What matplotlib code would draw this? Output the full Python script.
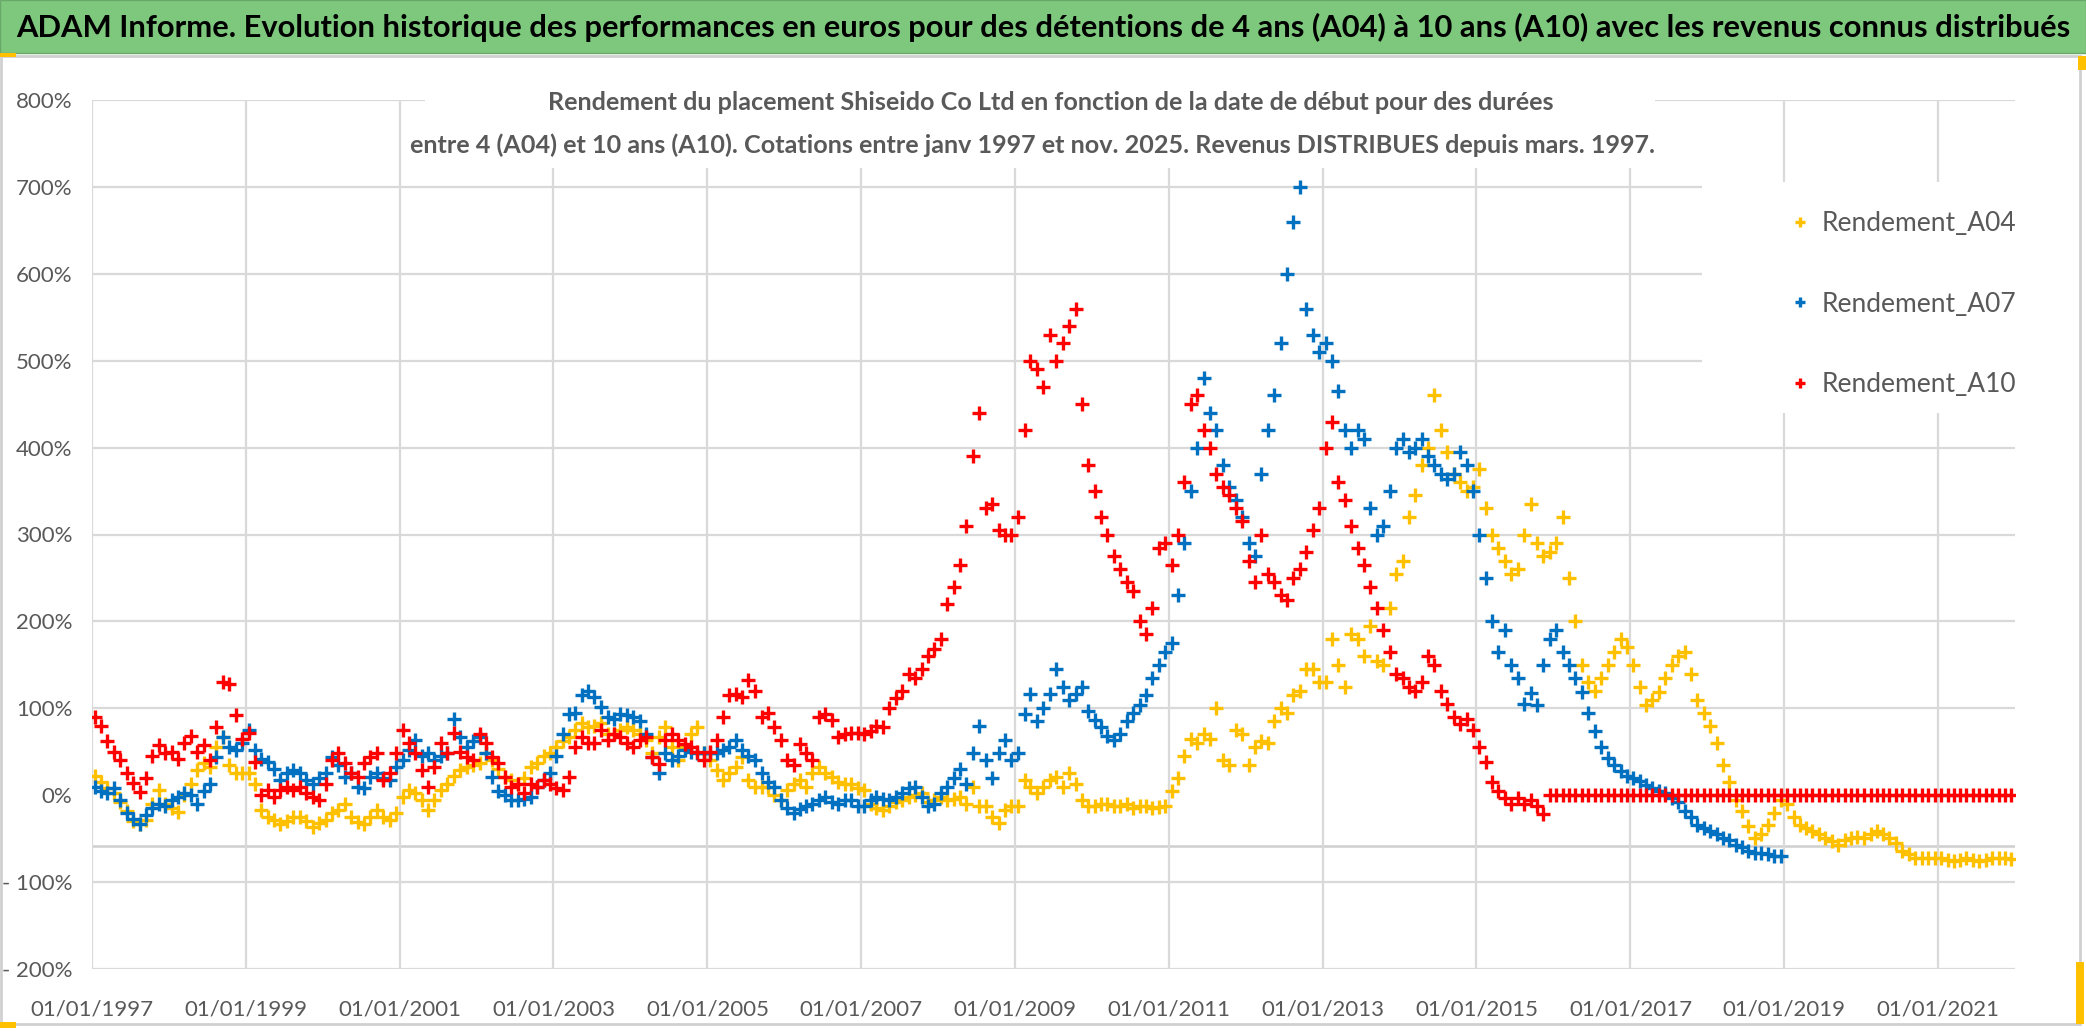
import datetime as dt
import matplotlib
matplotlib.use("Agg")
import matplotlib.pyplot as plt
import matplotlib.dates as mdates
from matplotlib.patches import Rectangle
from matplotlib import font_manager
import pandas as pd

# monthly readings (%), one row per year, from Jan 1997
rendement_a04 = [
    22, 15, 8, 2, -8, -18, -30, -33, -29, -10, 6, -10,          # 1997
    -15, -19, 0, 13, 29, 37, 33, 56, 67, 35, 25, 25,            # 1998
    25, 13, -17, -25, -29, -33, -30, -25, -25, -30, -37, -32,   # 1999
    -29, -20, -17, -10, -25, -31, -33, -25, -17, -25, -29, -21, # 2000
    -2, 6, 2, -5, -17, -6, 6, 13, 22, 29, 33, 35,               # 2001
    37, 48, 40, 30, 21, 17, 13, 20, 33, 37, 45, 48,             # 2002
    56, 62, 67, 75, 83, 79, 80, 83, 71, 71, 75, 79,             # 2003
    75, 70, 63, 48, 67, 79, 55, 40, 56, 70, 79, 48,             # 2004
    40, 29, 17, 25, 33, 44, 17, 10, 10, 10, 0, -6,              # 2005
    6, 13, 17, 10, 25, 33, 25, 21, 15, 13, 13, 8,               # 2006
    6, -10, -15, -17, -12, -8, -6, -2, 0, 2, -8, -5,            # 2007
    -2, -6, -4, -2, -10, 10, -13, -13, -25, -32, -17, -13,      # 2008
    -13, 17, 10, 2, 10, 17, 21, 10, 25, 13, -6, -13,            # 2009
    -12, -10, -10, -12, -13, -10, -15, -13, -12, -15, -14, -12, # 2010
    5, 20, 45, 65, 60, 70, 65, 100, 40, 35, 75, 70,             # 2011
    35, 55, 62, 60, 85, 100, 95, 115, 120, 145, 145, 130,       # 2012
    130, 180, 150, 125, 185, 180, 160, 195, 155, 150, 215, 255, # 2013
    270, 320, 345, 380, 400, 460, 420, 395, 370, 360, 350, 355, # 2014
    375, 330, 300, 285, 270, 255, 260, 300, 335, 290, 275, 280, # 2015
    290, 320, 250, 200, 150, 130, 120, 135, 150, 165, 180, 170, # 2016
    150, 125, 104, 110, 119, 135, 150, 160, 165, 140, 110, 95,  # 2017
    80, 60, 35, 15, -5, -18, -35, -49, -45, -34, -20, -5,       # 2018
    -10, -25, -34, -38, -41, -45, -49, -53, -57, -52, -49, -48, # 2019
    -49, -45, -41, -45, -49, -55, -64, -68, -72, -72, -72, -72, # 2020
    -72, -74, -76, -75, -72, -74, -76, -75, -72, -72, -72, -73, # 2021
]

rendement_a07 = [
    10, 5, 2, 8, -6, -21, -27, -33, -23, -15, -10, -12,         # 1997
    -5, -2, 2, 0, -10, 5, 13, 44, 67, 56, 52, 60,               # 1998
    75, 52, 42, 38, 30, 17, 25, 29, 25, 18, 13, 20,             # 1999
    25, 44, 35, 21, 25, 10, 8, 21, 25, 20, 17, 33,              # 2000
    40, 52, 63, 45, 48, 40, 45, 48, 88, 67, 56, 62,             # 2001
    67, 48, 21, 5, 0, -6, -6, -4, -2, 10, 18, 25,               # 2002
    45, 70, 94, 95, 115, 120, 113, 102, 90, 88, 94, 92,         # 2003
    90, 85, 70, 44, 25, 48, 40, 45, 52, 50, 48, 48,             # 2004
    48, 48, 52, 56, 63, 52, 45, 40, 25, 15, 10, -5,             # 2005
    -15, -21, -16, -13, -10, -5, -2, -8, -10, -6, -6, -12,      # 2006
    -12, -6, -2, -4, -6, -2, 2, 8, 10, -2, -13, -10,            # 2007
    2, 10, 20, 30, 13, 48, 80, 40, 20, 48, 63, 40,              # 2008
    48, 94, 116, 85, 100, 116, 145, 124, 109, 116, 124, 97,     # 2009
    86, 78, 68, 63, 70, 85, 95, 104, 115, 135, 150, 165,        # 2010
    175, 230, 290, 350, 400, 480, 440, 420, 380, 355, 340, 320, # 2011
    290, 275, 370, 420, 460, 520, 600, 660, 700, 560, 530, 510, # 2012
    520, 500, 465, 420, 400, 420, 410, 330, 300, 310, 350, 400, # 2013
    410, 395, 400, 410, 390, 380, 370, 364, 370, 395, 380, 350, # 2014
    300, 250, 200, 165, 190, 150, 135, 105, 118, 104, 150, 180, # 2015
    190, 165, 150, 135, 119, 95, 74, 55, 43, 35, 28, 22,        # 2016
    20, 16, 12, 8, 5, 2, -3, -8, -18, -25, -34, -38,            # 2017
    -41, -45, -49, -52, -57, -60, -64, -66, -67, -68, -70, -70, # 2018
]

rendement_a10 = [
    90, 80, 62, 50, 40, 25, 14, 4, 20, 45, 58, 48,              # 1997
    50, 42, 60, 68, 50, 58, 40, 78, 130, 128, 92, 65,           # 1998
    72, 38, 0, 6, -2, 6, 10, 6, 10, 2, -2, -6,                  # 1999
    13, 40, 48, 37, 25, 21, 37, 44, 48, 17, 25, 48,             # 2000
    75, 60, 48, 29, 10, 33, 60, 48, 72, 50, 44, 40,             # 2001
    70, 60, 44, 37, 21, 10, 13, 2, 13, 10, 17, 13,              # 2002
    8, 6, 21, 56, 67, 60, 60, 75, 63, 71, 67, 60,               # 2003
    55, 63, 67, 44, 36, 63, 71, 63, 59, 56, 50, 40,             # 2004
    50, 63, 90, 115, 117, 113, 132, 120, 90, 95, 79, 63,        # 2005
    40, 35, 59, 48, 40, 90, 94, 86, 67, 70, 72, 72,             # 2006
    70, 74, 80, 78, 100, 112, 120, 140, 135, 145, 160, 168,     # 2007
    180, 220, 240, 265, 310, 390, 440, 330, 335, 305, 300, 300, # 2008
    320, 420, 500, 490, 470, 530, 500, 520, 540, 560, 450, 380, # 2009
    350, 320, 300, 275, 260, 245, 235, 200, 185, 215, 285, 290, # 2010
    265, 300, 360, 450, 460, 420, 400, 370, 355, 345, 330, 315, # 2011
    270, 245, 300, 255, 245, 230, 225, 250, 260, 280, 305, 330, # 2012
    400, 430, 360, 340, 310, 285, 265, 240, 215, 190, 165, 140, # 2013
    135, 125, 120, 130, 160, 150, 120, 105, 90, 82, 88, 75,     # 2014
    55, 38, 15, 5, -3, -10, -3, -10, -5, -12, -22, 0,           # 2015
    0, 0, 0, 0, 0, 0, 0, 0, 0, 0, 0, 0,                         # 2016
    0, 0, 0, 0, 0, 0, 0, 0, 0, 0, 0, 0,                         # 2017
    0, 0, 0, 0, 0, 0, 0, 0, 0, 0, 0, 0,                         # 2018
    0, 0, 0, 0, 0, 0, 0, 0, 0, 0, 0, 0,                         # 2019
    0, 0, 0, 0, 0, 0, 0, 0, 0, 0, 0, 0,                         # 2020
    0, 0, 0, 0, 0, 0, 0, 0, 0, 0, 0, 0,                         # 2021
]

series_names = ["Rendement_A04", "Rendement_A07", "Rendement_A10"]
series_colors = ["#FFC000", "#0070C0", "#FF0000"]
y_ticks = [-200, -100, 100, 200, 300, 400, 500, 600, 700, 800]
y_label_ticks = [-200, -100, 0, 100, 200, 300, 400, 500, 600, 700, 800]
x_tick_years = list(range(1997, 2022, 2))

title = ("ADAM Informe. Evolution historique des performances en euros pour des "
         "détentions de 4 ans (A04) à 10 ans (A10) avec les revenus connus distribués")
subtitle1 = ("Rendement du placement Shiseido Co Ltd en fonction de la date de début "
             "pour des durées")
subtitle2 = ("entre 4 (A04) et 10 ans (A10). Cotations entre janv 1997 et nov. 2025. "
             "Revenus DISTRIBUES depuis mars. 1997.")

# narrow-ish font, Calibri is not there
names = {f.name for f in font_manager.fontManager.ttflist}
if "Liberation Sans Narrow" in names:
    FONT = ["Liberation Sans Narrow", "DejaVu Sans"]
else:
    FONT = ["Lato", "DejaVu Sans"]
plt.rcParams["font.family"] = FONT

W, H = 2086, 1032
GREY = "#595959"
GRID = "#D9D9D9"

fig = plt.figure(figsize=(W / 100, H / 100), dpi=100)
fig.patch.set_facecolor("white")


def fx(px):
    return px / W


def fy(py):
    return 1 - py / H


# green title band and chart frame (behind the axes)
fig.patches.append(Rectangle((0, fy(53)), 1, 53 / H, transform=fig.transFigure,
                             facecolor="#7DC87D", edgecolor="#6AA86A", lw=1.0,
                             zorder=-5))
fig.patches.append(Rectangle((fx(1), fy(1024)), fx(2079), (1024 - 56) / H,
                             transform=fig.transFigure, facecolor="white",
                             edgecolor="#D0D0D0", lw=2.0, zorder=-5))
for (x0, y0, w, h) in [(0, 53, 16, 4), (0, 1022, 16, 6), (2078, 56, 8, 14),
                       (2076, 962, 8, 62)]:
    fig.patches.append(Rectangle((fx(x0), fy(y0 + h)), w / W, h / H,
                                 transform=fig.transFigure, facecolor="#FFC000",
                                 edgecolor="none", zorder=-4))

ax = fig.add_axes([fx(92), fy(969), (2015 - 92) / W, (969 - 100) / H])
ax.set_facecolor("none")

start = pd.Timestamp("1997-01-01")
datas = [rendement_a04, rendement_a07, rendement_a10]
for name, color, vals in zip(series_names, series_colors, datas):
    dates = pd.date_range(start, periods=len(vals), freq="MS") + pd.Timedelta(days=14)
    ax.plot(dates, vals, linestyle="none", marker="+", ms=10.5, mew=2.4,
            color=color, label=name, zorder=3)

ax.set_xlim(dt.datetime(1997, 1, 1), dt.datetime(2022, 1, 1))
ax.set_ylim(-200, 800)

for v in y_ticks:
    ax.axhline(v, color=GRID, lw=1.6, zorder=0)
ax.axhline(-59, color="#CFCFCF", lw=1.8, zorder=0)
xticks = [dt.datetime(y, 1, 1) for y in x_tick_years]
for d in xticks:
    ax.axvline(d, color=GRID, lw=1.6, zorder=0)

ax.set_yticks(y_label_ticks)
ax.set_yticklabels([f"{v}%" if v >= 0 else f"- {abs(v)}%" for v in y_label_ticks])
ax.set_xticks(xticks)
ax.xaxis.set_major_formatter(mdates.DateFormatter("%d/%m/%Y"))
ax.tick_params(axis="both", length=0, labelsize=16, colors=GREY)
ax.tick_params(axis="y", pad=14)
ax.tick_params(axis="x", pad=22)
for s in ax.spines.values():
    s.set_visible(False)

# white boxes behind subtitle and legend (they hide the gridlines)
ax.add_patch(Rectangle((fx(425), fy(168)), (1655 - 425) / W, (168 - 78) / H,
                       transform=fig.transFigure, facecolor="white",
                       edgecolor="none", zorder=1))
ax.add_patch(Rectangle((fx(1702), fy(413)), (2015 - 1702) / W, (413 - 182) / H,
                       transform=fig.transFigure, facecolor="white",
                       edgecolor="none", zorder=1))

leg = ax.legend(loc="upper left", bbox_to_anchor=(fx(1779), fy(198)),
                bbox_transform=fig.transFigure, frameon=False, fontsize=19,
                labelspacing=2.1, handlelength=0.6, handletextpad=0.5,
                borderpad=0, markerscale=0.7)
for t in leg.get_texts():
    t.set_color(GREY)

fig.canvas.draw()
r = fig.canvas.get_renderer()


def fit(txt, width):
    w = txt.get_window_extent(r).width
    txt.set_fontsize(txt.get_fontsize() * width / w)


t0 = fig.text(0.5, fy(27), title, ha="center", va="center", fontsize=24,
              fontweight="bold", color="black")
fit(t0, 2050)
t1 = fig.text(fx(1051), fy(102), subtitle1, ha="center", va="center",
              fontsize=18, fontweight="bold", color=GREY)
t2 = fig.text(fx(1032), fy(145), subtitle2, ha="center", va="center",
              fontsize=18, fontweight="bold", color=GREY)
fit(t2, 1244)
t1.set_fontsize(t2.get_fontsize())

fig.savefig("out.png", dpi=100)
